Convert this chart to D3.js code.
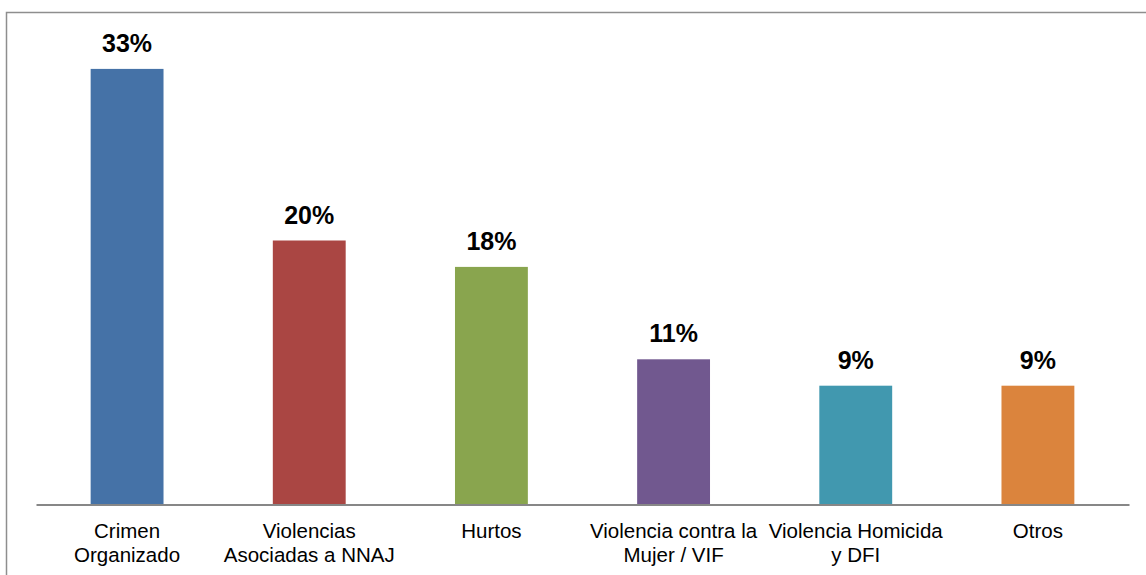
<!DOCTYPE html>
<html lang="en">
<head>
	<meta charset="utf-8">
	<script src="https://d3js.org/d3.v7.min.js"></script>
	<style>
		body {margin:0; background:#fff;}
		svg {display:block;}
		.label {font-family:"Liberation Sans", Arial, sans-serif; font-weight:bold; font-size:25px; fill:#000;}
		.cat {font-family:"Liberation Sans", Arial, sans-serif; font-size:20.5px; fill:#000;}
	</style>
</head>
<body>
<script>
	// data
	var categories = ["Crimen Organizado", "Violencias Asociadas a NNAJ", "Hurtos",
		"Violencia contra la Mujer / VIF", "Violencia Homicida y DFI", "Otros"];
	var tickLines = [["Crimen", "Organizado"], ["Violencias", "Asociadas a NNAJ"], ["Hurtos"],
		["Violencia contra la", "Mujer / VIF"], ["Violencia Homicida", "y DFI"], ["Otros"]];
	var values = [33, 20, 18, 11, 9, 9];
	var colors = ["#4572A7", "#AA4643", "#89A54E", "#71588F", "#4198AF", "#DB843D"];

	var width = 1146, height = 575;
	var baseY = 504.5;

	var svg = d3.select("body").append("svg")
		.attr("width", width)
		.attr("height", height);

	// outer chart frame (runs off the right and bottom of the picture)
	svg.append("rect")
		.attr("x", 6.5).attr("y", 12.5)
		.attr("width", 1300).attr("height", 800)
		.attr("fill", "none")
		.attr("stroke", "#8e8e8e")
		.attr("stroke-width", 1.5);

	var x = d3.scaleBand()
		.domain(categories)
		.range([36, 1129])
		.paddingInner(0.6)
		.paddingOuter(0.3);

	var y = d3.scaleLinear()
		.domain([0, 35])
		.range([baseY, baseY - 35 * 13.2]);

	svg.selectAll("rect.bar").data(values).enter()
		.append("rect")
		.attr("class", "bar")
		.attr("x", function(d, i) {return x(categories[i]);})
		.attr("y", function(d) {return y(d);})
		.attr("width", x.bandwidth())
		.attr("height", function(d) {return y(0) - y(d);})
		.attr("fill", function(d, i) {return colors[i];});

	// category axis
	var axis = svg.append("g")
		.attr("transform", "translate(0," + baseY + ")")
		.call(d3.axisBottom(x).tickSize(0).tickFormat(""));
	axis.select(".domain").attr("stroke", "#878787").attr("stroke-width", 2);

	svg.selectAll("text.cat").data(tickLines).enter()
		.append("text")
		.attr("class", "cat")
		.attr("text-anchor", "middle")
		.attr("x", function(d, i) {return x(categories[i]) + x.bandwidth() / 2;})
		.attr("y", baseY + 33)
		.each(function(lines) {
			var t = d3.select(this);
			lines.forEach(function(s, j) {
				t.append("tspan")
					.attr("x", t.attr("x"))
					.attr("dy", j ? 24 : 0)
					.text(s);
			});
		});

	svg.selectAll("text.label").data(values).enter()
		.append("text")
		.attr("class", "label")
		.attr("text-anchor", "middle")
		.attr("x", function(d, i) {return x(categories[i]) + x.bandwidth() / 2;})
		.attr("y", function(d) {return y(d) - 17;})
		.text(function(d) {return d + "%";});
</script>
</body>
</html>
